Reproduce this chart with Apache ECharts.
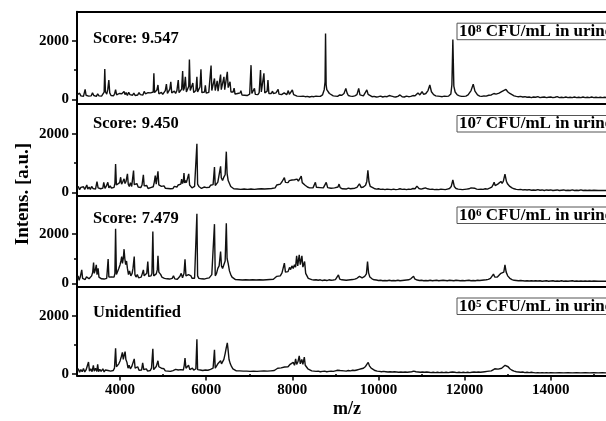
<!DOCTYPE html>
<html><head><meta charset="utf-8">
<script src="https://cdn.jsdelivr.net/npm/echarts@6/dist/echarts.min.js"></script>
<style>html,body{margin:0;padding:0;background:#fff}#c{width:606px;height:421px}</style>
</head><body><div id="c"></div>
<script>
// m/z vs intensity (top to bottom)
const spec1 = [[3000,150],[3030,90],[3060,210],[3090,120],[3120,180],[3150,100],[3189,340],[3210,140],[3240,200],[3270,110],[3300,170],[3330,120],[3360,220],[3390,130],[3420,160],[3450,100],[3480,190],[3510,120],[3540,150],[3570,110],[3600,180],[3630,250],[3645,1040],[3660,260],[3690,180],[3715,340],[3739,660],[3760,220],[3790,130],[3820,190],[3850,120],[3875,200],[3896,330],[3920,150],[3950,120],[3980,200],[4010,140],[4040,190],[4070,150],[4093,270],[4115,160],[4140,230],[4170,130],[4200,240],[4230,160],[4260,200],[4290,140],[4320,210],[4350,130],[4380,180],[4410,150],[4440,230],[4470,160],[4500,190],[4530,150],[4560,270],[4590,190],[4620,160],[4650,230],[4680,180],[4710,220],[4740,160],[4770,250],[4785,890],[4800,230],[4830,180],[4855,320],[4880,490],[4900,190],[4930,160],[4960,240],[4990,170],[5020,230],[5050,300],[5076,520],[5100,200],[5130,260],[5155,350],[5178,600],[5200,220],[5230,190],[5260,280],[5290,200],[5320,300],[5351,660],[5370,230],[5400,260],[5430,350],[5453,970],[5470,300],[5490,380],[5516,770],[5540,250],[5570,280],[5595,450],[5610,1360],[5630,300],[5660,280],[5690,560],[5710,230],[5740,200],[5760,300],[5784,770],[5800,250],[5830,300],[5855,420],[5878,1030],[5900,230],[5930,200],[5960,250],[5980,480],[6000,210],[6030,180],[6060,240],[6090,300],[6113,1160],[6130,300],[6160,280],[6192,715],[6210,300],[6235,350],[6255,630],[6275,280],[6300,260],[6334,850],[6350,330],[6380,300],[6412,770],[6430,330],[6460,380],[6490,940],[6510,400],[6530,350],[6553,600],[6575,250],[6600,200],[6625,250],[6648,380],[6670,180],[6700,150],[6730,200],[6760,160],[6790,220],[6805,300],[6830,150],[6860,200],[6890,140],[6920,170],[6950,130],[6980,190],[7010,180],[7041,1170],[7060,200],[7090,160],[7120,380],[7140,170],[7170,200],[7200,160],[7230,230],[7261,1000],[7280,250],[7310,230],[7340,890],[7360,220],[7390,190],[7415,280],[7434,660],[7455,200],[7480,170],[7510,200],[7540,280],[7560,200],[7590,180],[7620,220],[7650,260],[7670,340],[7690,180],[7720,200],[7750,160],[7780,190],[7810,220],[7840,170],[7870,160],[7906,300],[7930,170],[7960,180],[8000,320],[8030,160],[8070,120],[8110,110],[8150,130],[8200,100],[8250,110],[8300,90],[8350,100],[8400,80],[8450,100],[8500,90],[8550,110],[8600,100],[8650,100],[8700,150],[8740,330],[8760,600],[8771,2250],[8785,500],[8800,330],[8830,280],[8860,200],[8900,140],[8950,120],[9000,110],[9050,100],[9100,150],[9150,140],[9200,200],[9242,375],[9270,220],[9300,130],[9350,110],[9400,100],[9450,120],[9500,160],[9541,375],[9570,150],[9610,110],[9650,120],[9690,150],[9730,320],[9760,170],[9800,120],[9850,90],[9900,100],[9950,80],[10000,90],[10050,110],[10100,80],[10150,100],[10200,90],[10250,130],[10300,110],[10350,90],[10400,80],[10450,100],[10500,150],[10550,90],[10600,80],[10650,110],[10700,90],[10750,100],[10800,130],[10850,120],[10917,220],[10960,150],[11012,260],[11050,170],[11100,200],[11150,300],[11192,490],[11230,260],[11280,160],[11330,120],[11380,110],[11430,100],[11480,90],[11530,110],[11580,100],[11630,110],[11680,180],[11705,500],[11727,2045],[11750,450],[11780,250],[11830,150],[11880,120],[11930,100],[11980,100],[12030,110],[12080,150],[12150,300],[12200,520],[12240,280],[12300,150],[12350,110],[12400,100],[12450,120],[12500,110],[12560,140],[12620,150],[12680,200],[12730,180],[12800,210],[12860,260],[12900,240],[12960,340],[13000,260],[13050,200],[13100,160],[13150,120],[13200,100],[13250,90],[13300,100],[13350,80],[13400,90],[13450,70],[13500,80],[13550,60],[13600,80],[13650,70],[13700,90],[13750,60],[13800,70],[13850,80],[13900,60],[13950,70],[14000,80],[14050,60],[14100,70],[14150,90],[14200,60],[14250,70],[14300,60],[14350,80],[14400,60],[14450,70],[14500,60],[14550,80],[14600,60],[14650,70],[14700,60],[14750,80],[14800,60],[14850,70],[14900,60],[14950,80],[15000,60],[15050,70],[15100,60],[15150,70],[15200,60],[15250,70],[15300,60],[15400,65],[15500,60],[15600,60]];

const spec2 = [[3000,120],[3030,200],[3060,90],[3090,170],[3120,110],[3150,190],[3180,100],[3210,160],[3228,250],[3250,110],[3280,180],[3310,100],[3340,200],[3370,130],[3400,170],[3430,110],[3464,365],[3490,150],[3520,200],[3550,120],[3580,180],[3600,140],[3621,340],[3650,130],[3680,210],[3716,340],[3740,150],[3770,220],[3800,140],[3830,200],[3860,170],[3880,300],[3896,970],[3915,250],[3940,300],[3960,200],[3990,330],[4014,515],[4035,280],[4060,350],[4093,460],[4115,300],[4140,380],[4171,630],[4190,280],[4215,200],[4240,330],[4270,200],[4290,260],[4313,740],[4330,260],[4360,200],[4390,300],[4420,180],[4450,230],[4480,160],[4510,250],[4541,595],[4560,220],[4590,170],[4620,230],[4650,130],[4680,180],[4710,160],[4740,220],[4770,190],[4795,350],[4817,570],[4840,280],[4860,300],[4880,720],[4900,250],[4930,280],[4960,200],[4990,170],[5020,220],[5050,140],[5080,180],[5110,130],[5140,170],[5170,120],[5200,160],[5230,130],[5260,200],[5290,150],[5320,180],[5350,250],[5380,210],[5410,280],[5430,450],[5450,300],[5470,380],[5484,660],[5500,320],[5520,400],[5540,330],[5570,350],[5594,630],[5615,250],[5640,200],[5670,150],[5700,180],[5730,200],[5760,250],[5784,1660],[5800,280],[5830,200],[5860,170],[5890,130],[5920,150],[5950,180],[5980,220],[6010,160],[6040,200],[6070,170],[6100,240],[6130,200],[6160,260],[6192,860],[6210,230],[6240,260],[6270,350],[6300,400],[6334,890],[6350,500],[6380,400],[6410,520],[6440,600],[6467,1390],[6485,650],[6510,400],[6540,300],[6570,200],[6600,150],[6640,120],[6680,170],[6720,110],[6760,150],[6800,100],[6840,140],[6880,110],[6920,160],[6960,100],[7000,140],[7040,110],[7080,150],[7120,100],[7160,140],[7200,110],[7240,150],[7280,120],[7320,140],[7360,110],[7400,150],[7440,120],[7480,160],[7520,130],[7560,170],[7600,150],[7640,250],[7680,300],[7720,280],[7760,360],[7790,330],[7815,500],[7840,340],[7870,380],[7900,330],[7930,400],[7960,350],[7990,420],[8020,360],[8050,430],[8080,370],[8110,450],[8140,380],[8170,420],[8207,550],[8230,330],[8260,380],[8290,250],[8320,260],[8350,180],[8400,150],[8440,180],[8480,150],[8510,200],[8535,340],[8560,170],[8600,140],[8640,160],[8680,120],[8720,150],[8760,180],[8787,340],[8820,160],[8860,130],[8900,140],[8940,120],[8980,150],[9020,130],[9060,180],[9085,280],[9110,160],[9160,120],[9200,130],[9250,110],[9300,140],[9350,120],[9400,130],[9450,140],[9500,170],[9557,290],[9600,160],[9650,180],[9700,240],[9730,380],[9754,750],[9780,350],[9810,200],[9850,160],[9900,130],[9950,110],[10000,120],[10050,100],[10100,110],[10150,90],[10200,110],[10250,100],[10300,90],[10350,110],[10400,90],[10450,100],[10500,120],[10550,100],[10600,110],[10650,90],[10700,110],[10750,100],[10800,130],[10850,120],[10893,210],[10940,130],[10990,110],[11040,130],[11090,150],[11140,120],[11200,100],[11250,110],[11300,90],[11350,100],[11400,90],[11450,110],[11500,100],[11550,90],[11600,110],[11650,130],[11690,200],[11727,420],[11760,200],[11800,130],[11850,110],[11900,100],[11950,90],[12000,100],[12050,110],[12100,120],[12150,150],[12190,210],[12230,140],[12280,110],[12330,100],[12380,110],[12430,100],[12480,120],[12530,110],[12580,140],[12630,180],[12660,250],[12685,340],[12710,230],[12740,260],[12770,280],[12800,250],[12843,370],[12870,300],[12900,380],[12937,620],[12970,380],[13000,280],[13050,200],[13100,150],[13150,120],[13200,100],[13250,90],[13300,100],[13350,80],[13400,90],[13450,80],[13500,90],[13550,70],[13600,80],[13650,70],[13700,90],[13750,70],[13800,80],[13850,60],[13900,80],[13950,70],[14000,80],[14050,60],[14100,70],[14150,80],[14200,60],[14250,70],[14300,80],[14350,60],[14400,70],[14450,60],[14500,80],[14550,60],[14600,70],[14650,60],[14700,80],[14750,60],[14800,70],[14850,60],[14900,70],[14950,60],[15000,70],[15100,60],[15200,65],[15300,60],[15400,60],[15500,60],[15600,60]];

const spec3 = [[3000,160],[3025,300],[3050,120],[3075,250],[3110,540],[3130,200],[3160,280],[3190,150],[3220,260],[3252,340],[3280,180],[3310,230],[3340,300],[3365,450],[3385,835],[3400,400],[3420,500],[3448,740],[3465,350],[3490,600],[3510,250],[3540,330],[3570,180],[3600,230],[3630,170],[3660,250],[3690,200],[3723,980],[3740,250],[3770,200],[3800,260],[3830,180],[3860,250],[3880,400],[3896,2195],[3915,350],[3940,400],[3970,600],[4000,750],[4020,900],[4038,1080],[4055,800],[4075,1000],[4093,1375],[4110,1000],[4130,750],[4150,900],[4171,600],[4195,350],[4220,500],[4250,300],[4280,400],[4300,600],[4329,1080],[4345,350],[4370,250],[4400,350],[4430,220],[4460,300],[4490,250],[4515,380],[4541,540],[4560,300],[4590,250],[4620,400],[4644,875],[4665,280],[4690,220],[4720,300],[4740,400],[4761,2090],[4780,300],[4810,250],[4840,380],[4865,550],[4880,1105],[4900,450],[4920,500],[4945,350],[4970,250],[5000,320],[5030,200],[5060,260],[5090,180],[5120,220],[5150,170],[5180,240],[5210,200],[5240,300],[5270,180],[5300,220],[5330,160],[5360,200],[5390,280],[5420,400],[5450,220],[5485,400],[5508,970],[5530,300],[5560,250],[5590,350],[5620,430],[5645,300],[5670,200],[5700,250],[5730,200],[5760,280],[5784,2800],[5800,300],[5830,200],[5860,240],[5890,180],[5920,220],[5950,170],[5980,230],[6010,200],[6040,260],[6070,220],[6100,300],[6130,350],[6160,270],[6192,2385],[6210,300],[6240,400],[6270,600],[6300,700],[6334,1280],[6355,700],[6380,600],[6410,750],[6440,900],[6467,2425],[6485,1000],[6510,800],[6540,500],[6570,350],[6600,250],[6640,180],[6680,150],[6720,120],[6760,140],[6800,100],[6840,130],[6880,110],[6920,140],[6960,100],[7000,130],[7040,110],[7080,140],[7120,100],[7160,130],[7200,110],[7240,140],[7280,100],[7320,130],[7360,110],[7400,140],[7440,120],[7480,150],[7520,130],[7560,160],[7600,200],[7640,280],[7680,350],[7720,300],[7760,420],[7790,400],[7815,810],[7840,450],[7870,520],[7900,470],[7935,640],[7960,550],[7990,700],[8020,600],[8050,750],[8075,650],[8100,1105],[8125,700],[8160,1145],[8185,750],[8222,1105],[8245,650],[8285,880],[8310,400],[8340,300],[8370,200],[8400,180],[8450,150],[8500,130],[8550,140],[8600,120],[8650,140],[8700,110],[8750,130],[8800,110],[8850,140],[8900,120],[8950,130],[9000,150],[9040,180],[9070,335],[9100,170],[9150,140],[9200,130],[9250,120],[9300,130],[9350,140],[9400,150],[9450,170],[9500,200],[9560,280],[9620,220],[9680,280],[9720,380],[9746,875],[9770,420],[9800,250],[9850,180],[9900,140],[9950,130],[10000,110],[10050,120],[10100,100],[10150,110],[10200,100],[10250,120],[10300,100],[10350,110],[10400,100],[10450,120],[10500,100],[10550,110],[10600,120],[10650,130],[10700,140],[10750,180],[10790,230],[10815,280],[10840,180],[10900,130],[10950,110],[11000,120],[11050,100],[11100,110],[11150,100],[11200,120],[11250,100],[11300,110],[11350,120],[11400,100],[11450,110],[11500,120],[11550,110],[11600,100],[11650,120],[11700,110],[11750,100],[11800,120],[11850,110],[11900,100],[11950,110],[12000,100],[12050,110],[12100,120],[12150,100],[12200,110],[12250,100],[12300,120],[12350,110],[12400,120],[12450,130],[12500,140],[12550,160],[12600,200],[12640,250],[12670,370],[12700,250],[12730,290],[12760,250],[12800,300],[12843,400],[12880,350],[12910,450],[12937,740],[12965,450],[13000,300],[13050,200],[13100,150],[13150,120],[13200,110],[13250,100],[13300,110],[13350,100],[13400,90],[13450,100],[13500,90],[13550,100],[13600,90],[13650,100],[13700,90],[13750,100],[13800,80],[13850,90],[13900,100],[13950,80],[14000,90],[14050,100],[14100,80],[14150,90],[14200,80],[14250,100],[14300,80],[14350,90],[14400,80],[14450,90],[14500,100],[14550,80],[14600,90],[14650,80],[14700,90],[14750,80],[14800,90],[14850,80],[14900,90],[14950,80],[15000,90],[15100,80],[15200,85],[15300,80],[15400,80],[15500,80],[15600,80]];

const spec4 = [[3000,100],[3030,180],[3060,60],[3090,150],[3120,80],[3150,190],[3180,70],[3210,140],[3240,90],[3267,410],[3290,100],[3320,180],[3350,80],[3380,300],[3400,100],[3430,200],[3460,90],[3480,330],[3500,80],[3530,160],[3560,90],[3600,180],[3630,70],[3660,140],[3690,80],[3720,120],[3750,60],[3780,100],[3810,80],[3840,120],[3870,200],[3896,885],[3915,250],[3940,300],[3970,350],[4000,450],[4030,600],[4054,740],[4075,500],[4095,650],[4117,770],[4135,500],[4160,400],[4185,200],[4210,300],[4240,180],[4270,250],[4300,200],[4329,520],[4350,200],[4380,150],[4410,250],[4440,130],[4470,180],[4500,140],[4525,380],[4550,150],[4580,120],[4610,180],[4640,100],[4670,150],[4700,120],[4730,200],[4761,865],[4780,150],[4810,200],[4840,260],[4860,300],[4880,455],[4900,250],[4930,300],[4960,200],[4990,150],[5020,180],[5050,110],[5080,140],[5110,100],[5140,130],[5170,90],[5200,150],[5230,120],[5260,100],[5290,160],[5320,110],[5350,140],[5380,100],[5410,150],[5440,200],[5470,140],[5490,300],[5508,545],[5530,200],[5560,250],[5590,300],[5620,150],[5650,120],[5680,200],[5710,130],[5740,100],[5760,180],[5784,1190],[5800,150],[5830,100],[5860,140],[5890,80],[5920,120],[5950,100],[5980,140],[6010,90],[6040,130],[6070,110],[6100,160],[6130,140],[6160,200],[6192,830],[6210,200],[6240,250],[6270,350],[6300,400],[6334,455],[6355,350],[6380,400],[6410,500],[6440,700],[6465,900],[6490,1070],[6510,800],[6530,500],[6560,350],[6590,250],[6620,180],[6660,130],[6700,110],[6740,90],[6780,110],[6820,80],[6860,100],[6900,80],[6940,100],[6980,70],[7020,90],[7060,80],[7100,100],[7140,80],[7180,90],[7220,70],[7260,100],[7300,80],[7340,110],[7380,90],[7420,100],[7460,120],[7500,110],[7540,130],[7580,120],[7620,160],[7660,200],[7700,230],[7740,210],[7780,260],[7820,240],[7860,280],[7900,250],[7940,320],[7980,280],[8020,400],[8050,300],[8076,520],[8100,330],[8130,420],[8160,620],[8185,350],[8220,500],[8245,330],[8278,580],[8300,300],[8330,250],[8360,180],[8400,140],[8450,110],[8500,100],[8550,90],[8600,100],[8650,80],[8700,90],[8750,100],[8800,80],[8850,90],[8900,100],[8950,90],[9000,110],[9050,130],[9080,180],[9110,120],[9150,100],[9200,110],[9250,100],[9300,120],[9350,110],[9400,130],[9450,120],[9500,140],[9550,160],[9600,180],[9650,200],[9700,260],[9730,330],[9762,400],[9790,280],[9830,200],[9870,150],[9920,120],[9970,100],[10020,90],[10070,80],[10120,90],[10170,80],[10220,70],[10270,80],[10320,70],[10370,80],[10420,70],[10470,60],[10520,70],[10570,60],[10620,70],[10670,60],[10720,70],[10770,80],[10820,100],[10870,80],[10920,70],[10970,60],[11020,70],[11070,60],[11120,70],[11170,60],[11220,50],[11270,60],[11320,50],[11370,60],[11420,50],[11470,60],[11520,50],[11570,60],[11620,50],[11670,60],[11720,70],[11770,60],[11820,50],[11870,60],[11920,50],[11970,60],[12020,50],[12070,60],[12120,50],[12170,60],[12220,70],[12270,60],[12320,70],[12370,60],[12420,70],[12470,80],[12520,90],[12570,100],[12620,110],[12660,150],[12700,180],[12740,150],[12780,170],[12820,190],[12860,200],[12900,240],[12940,300],[12976,320],[13010,250],[13050,180],[13100,130],[13150,100],[13200,80],[13250,70],[13300,60],[13350,70],[13400,50],[13450,60],[13500,50],[13550,60],[13600,50],[13650,40],[13700,50],[13750,40],[13800,50],[13850,40],[13900,50],[13950,40],[14000,50],[14100,40],[14200,50],[14300,40],[14400,50],[14500,40],[14600,50],[14700,40],[14800,50],[14900,40],[15000,50],[15100,40],[15200,45],[15300,40],[15400,45],[15500,40],[15600,40]];

const scoreLabels = ['Score: 9.547', 'Score: 9.450', 'Score: 7.479', 'Unidentified'];
const concExponents = ['8', '7', '6', '5'];
const xTickLabels = [4000, 6000, 8000, 10000, 12000, 14000];
const xMinorTicks = [5000, 7000, 9000, 11000, 13000, 15000];
const yTickLabels = [0, 2000];
const yMinorTicks = [1000];

const FONT = '"Liberation Serif","Times New Roman",serif';
const specs = [spec1, spec2, spec3, spec4];
const layout = [
  {top: 11.7, h: 92.3, min: -160, max: 3000, scoreY: 39.2},
  {top: 104, h: 91.5, min: -110, max: 3020, scoreY: 123.7},
  {top: 195.5, h: 91, min: -130, max: 3540, scoreY: 219},
  {top: 286.5, h: 89, min: -50, max: 3000, scoreY: 313}
];
const LEFT = 77, WIDTH = 529, XMIN = 3000, XMAX = 15283;
const plain = v => String(v);

const grids = [], xAxes = [], yAxes = [], series = [], graphics = [];
layout.forEach((p, i) => {
  grids.push({left: LEFT, top: p.top, width: WIDTH, height: p.h, show: false});
  const bottom = i === 3;
  xAxes.push({gridIndex: i, type: 'value', min: XMIN, max: XMAX, position: 'bottom',
    axisLine: {show: true, onZero: false, lineStyle: {color: '#000', width: 2}},
    axisTick: {show: bottom, customValues: xTickLabels, length: 5, inside: false, lineStyle: {color: '#000', width: 1.5}},
    axisLabel: {show: bottom, customValues: xTickLabels, formatter: plain, margin: 7, color: '#000', fontFamily: FONT, fontWeight: 'bold', fontSize: 15},
    splitLine: {show: false}});
  yAxes.push({gridIndex: i, type: 'value', min: p.min, max: p.max, position: 'left',
    axisLine: {show: true, onZero: false, lineStyle: {color: '#000', width: 2}},
    axisTick: {show: true, customValues: yTickLabels, length: 5, inside: false, lineStyle: {color: '#000', width: 1.5}},
    axisLabel: {customValues: yTickLabels, formatter: plain, margin: 8, color: '#000', fontFamily: FONT, fontWeight: 'bold', fontSize: 15},
    splitLine: {show: false}});
  series.push({type: 'line', xAxisIndex: i, yAxisIndex: i, data: specs[i], showSymbol: false,
    symbol: 'none', silent: true, animation: false, clip: true,
    lineStyle: {color: '#111', width: 1.4}});
  graphics.push({type: 'text', x: 93, y: p.scoreY,
    style: {text: scoreLabels[i], font: 'bold 16.5px ' + FONT, fill: '#000', align: 'left', verticalAlign: 'middle'}});
  const bt = p.top + 11.5;
  graphics.push({type: 'rect', shape: {x: 457, y: bt, width: 170, height: 16.5},
    style: {fill: 'none', stroke: '#555', lineWidth: 1}});
  graphics.push({type: 'text', x: 459, y: bt + 8.5,
    style: {text: '{a|10}{s|' + concExponents[i] + '}{a| CFU/mL in urine}', fill: '#000',
      verticalAlign: 'middle', align: 'left',
      rich: {a: {font: 'bold 17px ' + FONT, fill: '#000', lineHeight: 16},
             s: {font: 'bold 11px ' + FONT, fill: '#000', lineHeight: 16, verticalAlign: 'top'}}}});
});
// top frame line of the first panel
xAxes.push({gridIndex: 0, type: 'value', min: XMIN, max: XMAX, position: 'top',
  axisLine: {show: true, onZero: false, lineStyle: {color: '#000', width: 2}},
  axisTick: {show: false}, axisLabel: {show: false}, splitLine: {show: false}});
// minor ticks
layout.forEach((p, i) => {
  yAxes.push({gridIndex: i, type: 'value', min: p.min, max: p.max, position: 'left',
    axisLine: {show: false}, axisLabel: {show: false}, splitLine: {show: false},
    axisTick: {show: true, customValues: yMinorTicks, length: 3, lineStyle: {color: '#000', width: 1.5}}});
});
xAxes.push({gridIndex: 3, type: 'value', min: XMIN, max: XMAX, position: 'bottom',
  axisLine: {show: false}, axisLabel: {show: false}, splitLine: {show: false},
  axisTick: {show: true, customValues: xMinorTicks, length: 3, lineStyle: {color: '#000', width: 1.5}}});

graphics.push({type: 'text', x: 23, y: 194, rotation: Math.PI / 2,
  style: {text: 'Intens. [a.u.]', font: 'bold 19px ' + FONT, fill: '#000', align: 'center', verticalAlign: 'middle'}});
graphics.push({type: 'text', x: 347, y: 409,
  style: {text: 'm/z', font: 'bold 18px ' + FONT, fill: '#000', align: 'center', verticalAlign: 'middle'}});

const chart = echarts.init(document.getElementById('c'), null, {renderer: 'canvas'});
chart.setOption({animation: false, grid: grids, xAxis: xAxes, yAxis: yAxes, series: series, graphic: graphics});
</script></body></html>
